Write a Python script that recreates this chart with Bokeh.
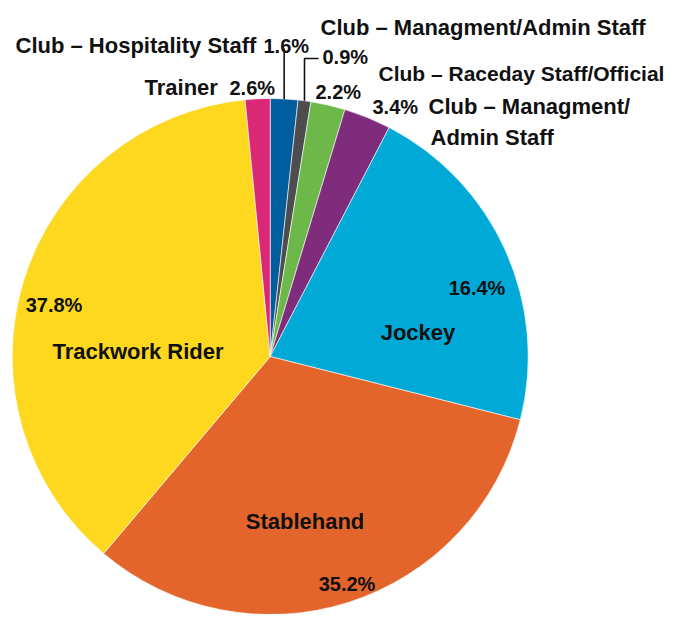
import numpy as np
from bokeh.plotting import figure
from bokeh.models import Range1d, ColumnDataSource
from bokeh.core.properties import value
from bokeh.embed import file_html
from bokeh.resources import INLINE

# ---- data (clockwise from 12 o'clock) ----
categories = ["Club – Hospitality Staff", "Club – Managment/Admin Staff",
              "Club – Raceday Staff/Official", "Club – Managment/\nAdmin Staff",
              "Jockey", "Stablehand", "Trackwork Rider", "Trainer"]
# printed percentage labels
pct_labels = ["1.6%", "0.9%", "2.2%", "3.4%", "16.4%", "35.2%", "37.8%", "2.6%"]
# slice sizes as drawn in the picture
slice_shares = [1.72, 0.80, 2.15, 2.95, 21.3, 32.2, 37.25, 1.55]
colors = ["#005E9E", "#4D4D4F", "#6CB94A", "#7E2C7B",
          "#00A9D6", "#E3652C", "#FDD81E", "#DA2877"]

# ---- layout (pixel coordinates, origin top-left of the figure) ----
FW, FH = 668, 614
CX, CY, R = 269.7, 356.0, 258.0
FONT = "Liberation Sans"


def Y(py):
    return FH - py


vals = np.array(slice_shares, dtype=float)
frac = vals / vals.sum()
cum = np.concatenate([[0.0], np.cumsum(frac)])
start = np.pi / 2 - 2 * np.pi * cum[:-1]
end = np.pi / 2 - 2 * np.pi * cum[1:]
mid = (start + end) / 2

p = figure(width=FW, height=FH, output_backend="svg", toolbar_location=None,
           x_range=Range1d(0, FW), y_range=Range1d(0, FH),
           min_border=0, background_fill_color="white", border_fill_color="white")
p.axis.visible = False
p.grid.visible = False
p.outline_line_color = None

src = ColumnDataSource(dict(start=start, end=end, color=colors, name=categories))
p.wedge(x=CX, y=Y(CY), radius=R, start_angle="start", end_angle="end",
        direction="clock", fill_color="color", line_color="white",
        line_width=0.6, source=src)

# leader lines for the two thin slices at the top
for i, (ty, tx) in zip([0, 1], [(48, None), (58, 318)]):
    ex = CX + R * np.cos(mid[i])
    ey = Y(CY) + R * np.sin(mid[i])
    xs = [ex, ex]
    ys = [ey, Y(ty)]
    if tx is not None:
        xs.append(tx)
        ys.append(Y(ty))
    p.line(xs, ys, line_color="#111111", line_width=1.6)

# label placement: (text, x, baseline py, align, size)
name_items = [
    ("Club – Hospitality Staff", 15, 45, "left", "22px"),
    ("Club – Managment/Admin Staff", 320, 27, "left", "22px"),
    ("Club – Raceday Staff/Official", 378, 73, "left", "21px"),
    ("Club – Managment/", 428, 106, "left", "22px"),
    ("Admin Staff", 430, 137, "left", "22px"),
    ("Jockey", 417.5, 332, "center", "22px"),
    ("Stablehand", 304.5, 521, "center", "22px"),
    ("Trackwork Rider", 137.5, 351, "center", "22px"),
    ("Trainer", 144, 87, "left", "22px"),
]
pct_pos = [(263, 45, "left"), (322, 56, "left"), (315, 91, "left"), (372, 106, "left"),
           (476.5, 287, "center"), (346.5, 583, "center"), (53.5, 304, "center"),
           (229, 87, "left")]

for t, x, py, al, sz in name_items:
    p.text(x=[x], y=[Y(py)], text=[t], text_font=value(FONT),
           text_font_style="bold", text_font_size=sz, text_align=al,
           text_baseline="alphabetic", text_color="#111111")

for lab, (x, py, al) in zip(pct_labels, pct_pos):
    p.text(x=[x], y=[Y(py)], text=[lab], text_font=value(FONT),
           text_font_style="bold", text_font_size="20px", text_align=al,
           text_baseline="alphabetic", text_color="#111111")

open("out.html", "w").write(file_html(p, INLINE))
